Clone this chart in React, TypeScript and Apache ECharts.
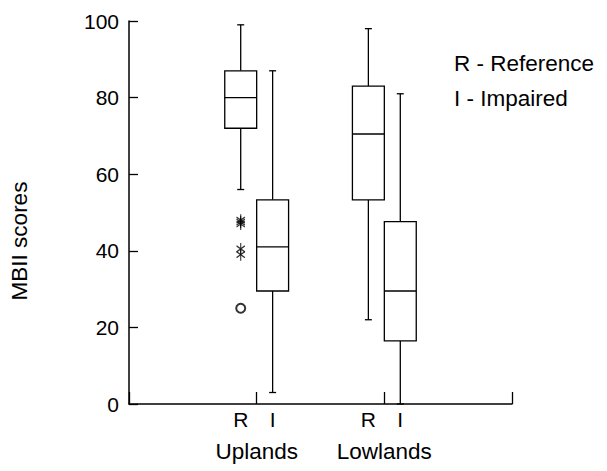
import React, { useEffect, useRef } from "react";
import * as echarts from "echarts";

// ---- data ----
const groups = ["Uplands", "Lowlands"];
const siteCodes = ["R", "I"];
// five-number summaries: [min, Q1, median, Q3, max]
const uplandsR = [56, 72, 80, 87, 99];
const uplandsI = [3, 29.5, 41, 53.3, 87];
const lowlandsR = [22, 53.3, 70.5, 83, 98];
const lowlandsI = [0, 16.5, 29.5, 47.6, 81];
// Uplands reference: extreme values (asterisks) and outlier (circle)
const uplandsRExtremes = [48, 47.5, 47, 40.5, 39];
const uplandsROutliers = [25];
const yMin = 0;
const yMax = 100;
const yStep = 20;
const legendLines = ["R - Reference", "I - Impaired"];
const yAxisTitle = "MBII scores";

const summaries = [
  [uplandsR, uplandsI],
  [lowlandsR, lowlandsI],
];

const FONT = "Liberation Sans, Arial, Helvetica, sans-serif";
const FS = 21;
const FS_WORDS = 22.5;
const SLOTS_PER_GROUP = 4;
const SITE_OFFSET = [-0.125, 0.125];
const BOX_WIDTH = 0.25;

const xOf = (g: number, s: number) => g + 1 + SITE_OFFSET[s];

const boxData: number[][] = [];
summaries.forEach((pair, g) =>
  pair.forEach((sum, s) => boxData.push([xOf(g, s), ...sum]))
);

const slotCount = SLOTS_PER_GROUP * (groups.length + 1);
const slotLabels: string[] = Array.from({ length: slotCount }, () => "");
groups.forEach((_, g) =>
  siteCodes.forEach((code, s) => {
    slotLabels[SLOTS_PER_GROUP * (g + 1) - 1 + s] = code;
  })
);

const asteriskPath = "path://M5,0L5,12M0,3L10,9M0,9L10,3";

export default function App() {
  const ref = useRef<HTMLDivElement>(null);
  useEffect(() => {
    if (!ref.current) return;
    const chart = echarts.init(ref.current, undefined, { renderer: "svg" });
    const black = "#000";
    const lw = 1.3;
    chart.setOption({
      animation: false,
      backgroundColor: "#fff",
      textStyle: { fontFamily: FONT, color: black },
      grid: { left: 127, right: 95, top: 21, bottom: 67 },
      xAxis: [
        {
          type: "value",
          min: 0,
          max: groups.length + 1,
          interval: 1,
          position: "bottom",
          axisLine: { show: true, onZero: false, lineStyle: { color: black, width: 1.5 } },
          axisTick: { show: true, inside: true, length: 12, lineStyle: { color: black, width: 1.3 } },
          axisLabel: {
            formatter: (v: number) => groups[v - 1] ?? "",
            margin: 36,
            fontSize: FS_WORDS,
            color: black,
            fontFamily: FONT,
          },
          splitLine: { show: false },
        },
        {
          type: "category",
          data: slotLabels,
          position: "bottom",
          boundaryGap: true,
          axisLine: { show: false },
          axisTick: { show: false },
          axisLabel: { interval: 0, margin: 5, fontSize: FS, color: black, fontFamily: FONT },
          splitLine: { show: false },
        },
      ],
      yAxis: {
        type: "value",
        min: yMin,
        max: yMax,
        interval: yStep,
        name: yAxisTitle,
        nameLocation: "middle",
        nameGap: 98,
        nameTextStyle: { fontSize: FS_WORDS, color: black, fontFamily: FONT, padding: [0, 57, 0, 0] },
        axisLine: { show: true, lineStyle: { color: black, width: 1.5 } },
        axisTick: { show: true, inside: true, length: 9, lineStyle: { color: black, width: 1.3 } },
        axisLabel: { margin: 10, fontSize: FS, color: black, fontFamily: FONT },
        splitLine: { show: false },
      },
      graphic: legendLines.map((t, i) => ({
        type: "text",
        left: 454,
        top: 52 + i * 35,
        style: { text: t, fontSize: FS_WORDS, fontFamily: FONT, fill: black },
      })),
      series: [
        {
          type: "custom",
          xAxisIndex: 0,
          yAxisIndex: 0,
          data: boxData,
          clip: false,
          renderItem: (params: any, api: any) => {
            const x = api.value(0);
            const vMin = api.value(1);
            const q1 = api.value(2);
            const med = api.value(3);
            const q3 = api.value(4);
            const vMax = api.value(5);
            const pMin = api.coord([x, vMin]);
            const pQ1 = api.coord([x, q1]);
            const pMed = api.coord([x, med]);
            const pQ3 = api.coord([x, q3]);
            const pMax = api.coord([x, vMax]);
            const halfW = api.size([BOX_WIDTH, 0])[0] / 2;
            const cx = pMed[0];
            const capW = 3.5;
            const st = { stroke: black, lineWidth: lw, fill: "none" };
            return {
              type: "group",
              children: [
                { type: "line", shape: { x1: cx, y1: pMax[1], x2: cx, y2: pQ3[1] }, style: st },
                { type: "line", shape: { x1: cx, y1: pQ1[1], x2: cx, y2: pMin[1] }, style: st },
                { type: "line", shape: { x1: cx - capW, y1: pMax[1], x2: cx + capW, y2: pMax[1] }, style: st },
                { type: "line", shape: { x1: cx - capW, y1: pMin[1], x2: cx + capW, y2: pMin[1] }, style: st },
                {
                  type: "rect",
                  shape: { x: cx - halfW, y: pQ3[1], width: halfW * 2, height: pQ1[1] - pQ3[1] },
                  style: { stroke: black, lineWidth: lw, fill: "#fff" },
                },
                { type: "line", shape: { x1: cx - halfW, y1: pMed[1], x2: cx + halfW, y2: pMed[1] }, style: st },
              ],
            };
          },
        },
        {
          type: "scatter",
          xAxisIndex: 0,
          yAxisIndex: 0,
          data: uplandsRExtremes.map((v) => [xOf(0, 0), v]),
          symbol: asteriskPath,
          symbolKeepAspect: true,
          symbolSize: [10, 12],
          itemStyle: { color: "transparent", borderColor: black, borderWidth: 1.2 },
          clip: false,
        },
        {
          type: "scatter",
          xAxisIndex: 0,
          yAxisIndex: 0,
          data: uplandsROutliers.map((v) => [xOf(0, 0), v]),
          symbol: "emptyCircle",
          symbolSize: 9,
          itemStyle: { color: black, borderColor: black, borderWidth: 1 },
          clip: false,
        },
      ],
    });
    return () => chart.dispose();
  }, []);
  return (
    <div
      ref={ref}
      style={{ position: "absolute", left: 0, top: 0, width: 607, height: 471, background: "#fff" }}
    />
  );
}
